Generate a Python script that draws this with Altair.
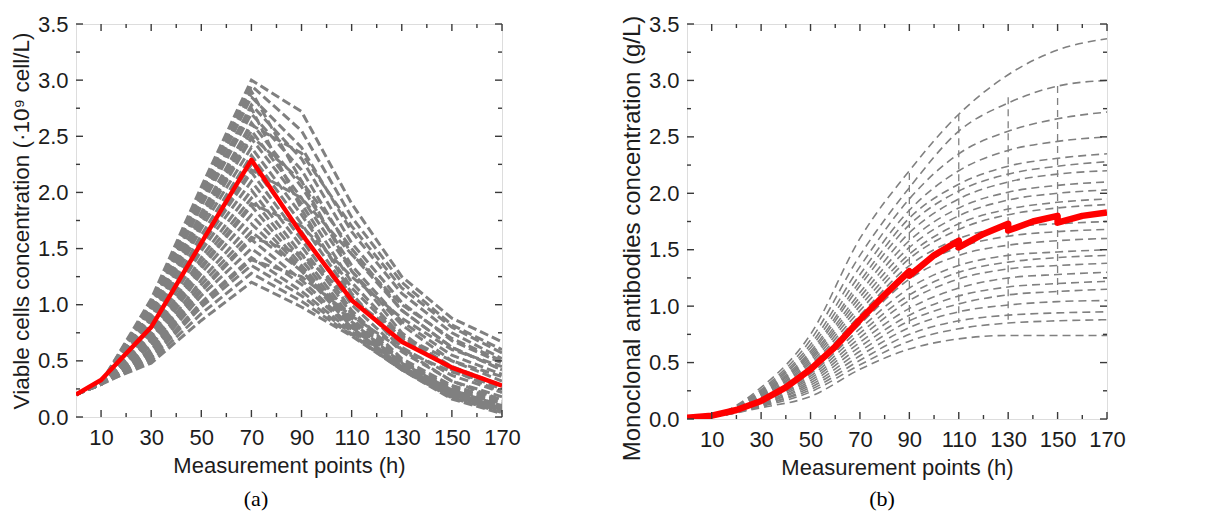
import altair as alt
import pandas as pd

# ---------------- data ----------------
X_PTS = [0, 10, 30, 50, 70, 90, 110, 130, 150, 170]

# (a) viable cells concentration, gray simulated curves
VCC_GRAY = [
    [0.2, 0.30, 1.05, 2.05, 3.00, 2.72, 1.90, 1.25, 0.88, 0.67],
    [0.2, 0.31, 1.02, 2.00, 2.95, 2.55, 1.78, 1.20, 0.82, 0.60],
    [0.2, 0.30, 1.00, 1.95, 2.85, 2.40, 1.65, 1.10, 0.75, 0.52],
    [0.2, 0.29, 0.98, 1.92, 2.78, 2.30, 1.55, 1.02, 0.68, 0.48],
    [0.2, 0.30, 0.96, 1.88, 2.70, 2.20, 1.45, 0.95, 0.62, 0.42],
    [0.2, 0.31, 0.93, 1.82, 2.62, 2.05, 1.35, 0.85, 0.55, 0.38],
    [0.2, 0.30, 0.90, 1.78, 2.55, 1.95, 1.30, 0.82, 0.50, 0.32],
    [0.2, 0.29, 0.88, 1.72, 2.48, 1.90, 1.20, 0.72, 0.45, 0.28],
    [0.2, 0.30, 0.86, 1.68, 2.40, 1.80, 1.15, 0.70, 0.42, 0.25],
    [0.2, 0.31, 0.83, 1.62, 2.33, 1.72, 1.08, 0.62, 0.37, 0.22],
    [0.2, 0.30, 0.80, 1.58, 2.25, 1.65, 1.00, 0.58, 0.32, 0.18],
    [0.2, 0.29, 0.78, 1.52, 2.18, 1.58, 0.95, 0.52, 0.28, 0.15],
    [0.2, 0.30, 0.75, 1.48, 2.10, 1.52, 0.92, 0.50, 0.26, 0.14],
    [0.2, 0.31, 0.72, 1.42, 2.02, 1.45, 0.88, 0.49, 0.24, 0.12],
    [0.2, 0.30, 0.70, 1.38, 1.95, 1.40, 0.85, 0.48, 0.24, 0.10],
    [0.2, 0.29, 0.68, 1.32, 1.88, 1.35, 0.84, 0.47, 0.22, 0.09],
    [0.2, 0.30, 0.65, 1.28, 1.80, 1.32, 0.82, 0.45, 0.20, 0.08],
    [0.2, 0.31, 0.63, 1.22, 1.72, 1.30, 0.80, 0.44, 0.20, 0.07],
    [0.2, 0.30, 0.60, 1.18, 1.65, 1.30, 0.85, 0.48, 0.24, 0.10],
    [0.2, 0.29, 0.58, 1.12, 1.58, 1.22, 0.80, 0.45, 0.22, 0.08],
    [0.2, 0.30, 0.56, 1.08, 1.50, 1.18, 0.78, 0.44, 0.20, 0.07],
    [0.2, 0.31, 0.54, 1.02, 1.42, 1.12, 0.76, 0.43, 0.19, 0.06],
    [0.2, 0.30, 0.52, 0.98, 1.35, 1.08, 0.74, 0.42, 0.18, 0.05],
    [0.2, 0.29, 0.50, 0.92, 1.28, 1.03, 0.73, 0.42, 0.17, 0.04],
    [0.2, 0.30, 0.48, 0.86, 1.20, 0.98, 0.72, 0.42, 0.16, 0.03],
    [0.2, 0.30, 0.79, 1.55, 2.20, 1.95, 1.45, 1.00, 0.70, 0.50],
    [0.2, 0.29, 0.69, 1.34, 1.90, 1.70, 1.25, 0.88, 0.60, 0.45],
    [0.2, 0.31, 0.92, 1.80, 2.60, 2.35, 1.70, 1.15, 0.80, 0.57],
    [0.2, 0.30, 0.59, 1.14, 1.60, 1.45, 1.05, 0.72, 0.50, 0.36],
    [0.2, 0.30, 1.01, 1.98, 2.90, 2.10, 1.30, 0.75, 0.42, 0.22],
    [0.2, 0.30, 0.97, 1.90, 2.75, 1.85, 1.10, 0.60, 0.32, 0.15],
    [0.2, 0.31, 0.89, 1.75, 2.50, 2.10, 1.50, 0.95, 0.62, 0.42],
    [0.2, 0.30, 0.53, 1.00, 1.40, 1.25, 0.90, 0.60, 0.40, 0.28],
]
VCC_RED = [0.20, 0.33, 0.80, 1.55, 2.29, 1.63, 1.04, 0.67, 0.44, 0.28]

# (b) monoclonal antibodies concentration, gray simulated curves
MAB_GRAY = [
    [0.01, 0.03, 0.28, 0.75, 1.60, 2.20, 2.70, 3.05, 3.27, 3.37],
    [0.01, 0.03, 0.26, 0.70, 1.45, 2.05, 2.55, 2.80, 2.95, 3.00],
    [0.01, 0.03, 0.25, 0.66, 1.35, 1.95, 2.35, 2.55, 2.66, 2.72],
    [0.01, 0.03, 0.24, 0.63, 1.28, 1.85, 2.20, 2.38, 2.46, 2.50],
    [0.01, 0.03, 0.23, 0.60, 1.22, 1.78, 2.08, 2.24, 2.31, 2.35],
    [0.01, 0.03, 0.22, 0.58, 1.18, 1.72, 2.02, 2.17, 2.24, 2.28],
    [0.01, 0.03, 0.22, 0.56, 1.12, 1.65, 1.95, 2.10, 2.17, 2.20],
    [0.01, 0.03, 0.21, 0.54, 1.08, 1.58, 1.87, 2.01, 2.07, 2.10],
    [0.01, 0.03, 0.20, 0.52, 1.04, 1.52, 1.80, 1.94, 2.00, 2.03],
    [0.01, 0.03, 0.20, 0.50, 1.00, 1.46, 1.73, 1.86, 1.92, 1.95],
    [0.01, 0.03, 0.19, 0.48, 0.96, 1.42, 1.68, 1.81, 1.87, 1.90],
    [0.01, 0.03, 0.18, 0.46, 0.92, 1.36, 1.60, 1.70, 1.73, 1.75],
    [0.01, 0.03, 0.18, 0.44, 0.88, 1.30, 1.52, 1.62, 1.66, 1.68],
    [0.01, 0.03, 0.17, 0.42, 0.84, 1.24, 1.45, 1.54, 1.58, 1.60],
    [0.01, 0.03, 0.16, 0.40, 0.80, 1.16, 1.36, 1.45, 1.48, 1.50],
    [0.01, 0.02, 0.15, 0.38, 0.76, 1.10, 1.30, 1.39, 1.43, 1.45],
    [0.01, 0.02, 0.15, 0.36, 0.72, 1.05, 1.24, 1.33, 1.36, 1.38],
    [0.01, 0.02, 0.14, 0.34, 0.68, 0.98, 1.16, 1.25, 1.28, 1.30],
    [0.01, 0.02, 0.13, 0.32, 0.64, 0.92, 1.09, 1.17, 1.20, 1.22],
    [0.01, 0.02, 0.13, 0.30, 0.60, 0.87, 1.02, 1.10, 1.13, 1.15],
    [0.01, 0.02, 0.12, 0.28, 0.56, 0.81, 0.95, 1.01, 1.04, 1.05],
    [0.01, 0.02, 0.12, 0.26, 0.52, 0.75, 0.87, 0.92, 0.94, 0.95],
    [0.01, 0.02, 0.11, 0.24, 0.48, 0.69, 0.80, 0.85, 0.87, 0.88],
    [0.01, 0.02, 0.10, 0.20, 0.44, 0.62, 0.71, 0.74, 0.74, 0.74],
]
# vertical restarts of the (b) simulations: x, upper y, lower y
MAB_JUMP_X = [90, 110, 130, 150]
MAB_JUMP_TOP = [2.18, 2.70, 2.85, 2.95]
MAB_JUMP_BOT = [0.80, 0.85, 0.88, 1.10]

# red curve of (b), read every 10 h, with the small restarts at 90/110/130/150 h
MAB_RED_X = [0, 10, 20, 30, 40, 50, 60, 70, 80, 90, 90, 100, 110, 110, 120, 130,
             130, 140, 150, 150, 160, 170]
MAB_RED_Y = [0.01, 0.03, 0.08, 0.16, 0.28, 0.44, 0.64, 0.88, 1.10, 1.31, 1.27, 1.45,
             1.58, 1.52, 1.64, 1.73, 1.67, 1.75, 1.80, 1.74, 1.80, 1.83]

X_LABELS = [10, 30, 50, 70, 90, 110, 130, 150, 170]
X_MINOR = [20, 40, 60, 80, 100, 120, 140, 160]
Y_LABELS = [0.0, 0.5, 1.0, 1.5, 2.0, 2.5, 3.0, 3.5]
Y_MINOR = [0.25, 0.75, 1.25, 1.75, 2.25, 2.75, 3.25]

# ---------------- styling ----------------
FONT = "Liberation Sans"
SERIF = "Liberation Serif"
FRAME = "#3a3a3a"
TXT = "#1c1c1c"
GRAY = "#808080"
RED = "#ff0000"


def long_df(series_list, xs):
    rows = []
    for i, s in enumerate(series_list):
        for j, (xv, yv) in enumerate(zip(xs, s)):
            rows.append({"s": i, "i": j, "x": xv, "y": yv})
    return pd.DataFrame(rows)


def panel(gray, red_x, red_y, ytitle, ytitle_size, W, H, gw, gdash, interp, rw,
          caption, cap_x, cap_y, title_y=None, jumps=None):
    xs = alt.Scale(domain=[0, 170], nice=False, zero=False)
    ys = alt.Scale(domain=[0, 3.5], nice=False, zero=False)
    x_axis = alt.Axis(values=X_LABELS, ticks=False, domain=False, grid=False,
                      labelFont=FONT, labelFontSize=22, labelColor=TXT,
                      labelPadding=10, labelFlush=False,
                      title="Measurement points (h)", titleFont=FONT,
                      titleFontSize=22, titleFontWeight="normal",
                      titleColor=TXT, titlePadding=7)
    yargs = dict(values=Y_LABELS, format=".1f", ticks=False, domain=False,
                 grid=False, labelFont=FONT, labelFontSize=22, labelColor=TXT,
                 labelPadding=8, title=ytitle, titleFont=FONT,
                 titleFontSize=ytitle_size, titleFontWeight="normal",
                 titleColor=TXT, titlePadding=4)
    if title_y is not None:
        yargs["titleY"] = title_y
    y_axis = alt.Axis(**yargs)

    X = alt.X("x:Q", scale=xs, axis=x_axis)
    Y = alt.Y("y:Q", scale=ys, axis=y_axis)

    gdf = long_df(gray, X_PTS)
    layers = [alt.Chart(gdf).mark_line(
        color=GRAY, strokeWidth=gw, strokeDash=gdash, interpolate=interp,
        clip=True
    ).encode(x=X, y=Y, detail="s:N", order="i:Q")]

    if jumps is not None:
        jdf = pd.DataFrame({"x": jumps[0], "y": jumps[1], "y2": jumps[2]})
        layers.append(alt.Chart(jdf).mark_rule(
            color=GRAY, strokeWidth=1.3, strokeDash=[7, 5]
        ).encode(x=X, y=Y, y2="y2:Q"))

    rdf = pd.DataFrame({"x": red_x, "y": red_y, "i": list(range(len(red_x)))})
    layers.append(alt.Chart(rdf).mark_line(
        color=RED, strokeWidth=rw, interpolate="linear", clip=True,
        strokeJoin="round"
    ).encode(x=X, y=Y, order="i:Q"))

    # inner ticks on all four sides
    for vals, ln in ((X_LABELS, 7), (X_MINOR, 4)):
        d = pd.DataFrame({"x": vals})
        layers.append(alt.Chart(d).mark_rule(color=FRAME, strokeWidth=1.4).encode(
            x=X, y=alt.value(H), y2=alt.value(H - ln)))
        layers.append(alt.Chart(d).mark_rule(color=FRAME, strokeWidth=1.4).encode(
            x=X, y=alt.value(0), y2=alt.value(ln)))
    for vals, ln in ((Y_LABELS, 7), (Y_MINOR, 4)):
        d = pd.DataFrame({"y": vals})
        layers.append(alt.Chart(d).mark_rule(color=FRAME, strokeWidth=1.4).encode(
            y=Y, x=alt.value(0), x2=alt.value(ln)))
        layers.append(alt.Chart(d).mark_rule(color=FRAME, strokeWidth=1.4).encode(
            y=Y, x=alt.value(W), x2=alt.value(W - ln)))

    cdf = pd.DataFrame({"t": [caption]})
    layers.append(alt.Chart(cdf).mark_text(
        font=SERIF, fontSize=22, color="#000000", baseline="alphabetic",
        align="center").encode(x=alt.value(cap_x), y=alt.value(cap_y), text="t:N"))

    return alt.layer(*layers).properties(width=W, height=H)


left = panel(VCC_GRAY, X_PTS, VCC_RED,
             "Viable cells concentration (\u00b710\u2079 cell/L)", 22.5,
             426, 393, 3, [9, 4], "linear", 4.5, "(a)", 180, 482)
right = panel(MAB_GRAY, MAB_RED_X, MAB_RED_Y,
              "Monoclonal antibodies concentration (g/L)", 24,
              420, 395, 1.6, [8, 5], "monotone", 6.5, "(b)", 195, 482,
              title_y=214, jumps=(MAB_JUMP_X, MAB_JUMP_TOP, MAB_JUMP_BOT))

chart = alt.hconcat(left, right, spacing=185, bounds="flush").properties(
    padding={"left": 9, "top": 12, "right": 5, "bottom": 0}
).configure_view(stroke=FRAME, strokeWidth=1.5).configure(background="white")

chart.save("out.html", embed_options={"renderer": "svg", "actions": False})
